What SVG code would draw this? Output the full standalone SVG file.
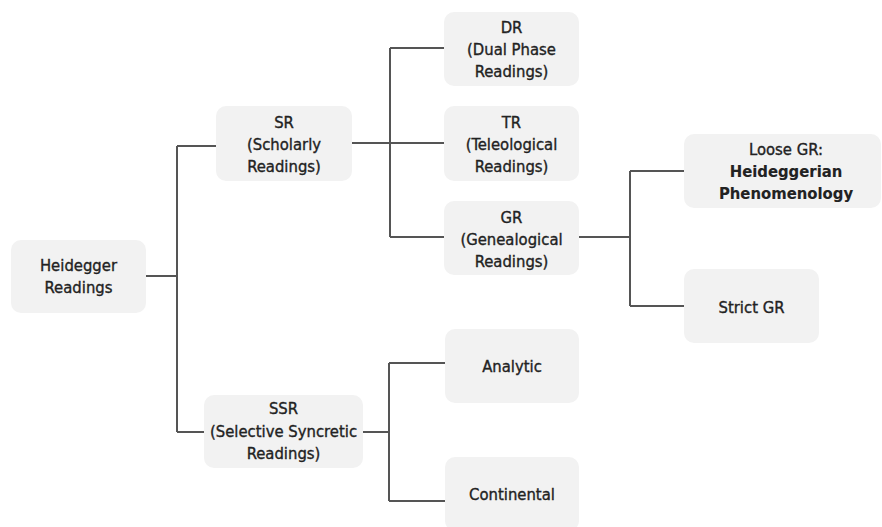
<svg xmlns="http://www.w3.org/2000/svg" width="882" height="527" viewBox="0 0 882 527">
<style>
.box{fill:#f2f2f2;}
text{font-family:"DejaVu Sans Condensed","Liberation Sans Narrow","Liberation Sans",sans-serif;font-size:16.5px;fill:#222;stroke:#222;stroke-width:0.35;text-anchor:middle;}
.b{font-weight:bold;stroke-width:0.1;}
.c{fill:none;stroke:#555;stroke-width:2;}
</style>
<rect width="882" height="527" fill="#ffffff"/>
<g id="connectors">
<path class="c" d="M146,276 H177 M177,146 V432 M177,146 H216 M177,432 H204"/>
<path class="c" d="M352,143 H444 M390,48 V237 M390,48 H444 M390,237 H444"/>
<path class="c" d="M579,237 H630 M630,171 V306 M630,171 H684 M630,306 H684"/>
<path class="c" d="M363,432 H389 M389,363 V501 M389,363 H445 M389,501 H445"/>
</g>
<g id="heidegger"><rect class="box" x="11" y="240" width="135" height="73" rx="10"/><text x="78.5" y="271">Heidegger</text><text x="78.5" y="293">Readings</text></g>
<g id="sr"><rect class="box" x="216" y="106" width="136" height="75" rx="10"/><text x="284" y="128">SR</text><text x="284" y="150">(Scholarly</text><text x="284" y="172">Readings)</text></g>
<g id="ssr"><rect class="box" x="204" y="395" width="159" height="73" rx="10"/><text x="283.5" y="414">SSR</text><text x="283.5" y="437">(Selective Syncretic</text><text x="283.5" y="459">Readings)</text></g>
<g id="dr"><rect class="box" x="444" y="12" width="135" height="74" rx="10"/><text x="511.5" y="33">DR</text><text x="511.5" y="55">(Dual Phase</text><text x="511.5" y="77">Readings)</text></g>
<g id="tr"><rect class="box" x="444" y="106" width="135" height="75" rx="10"/><text x="511.5" y="128">TR</text><text x="511.5" y="150">(Teleological</text><text x="511.5" y="172">Readings)</text></g>
<g id="gr"><rect class="box" x="444" y="201" width="135" height="74" rx="10"/><text x="511.5" y="223">GR</text><text x="511.5" y="245">(Genealogical</text><text x="511.5" y="267">Readings)</text></g>
<g id="loose"><rect class="box" x="684" y="134" width="197" height="74" rx="10"/><text x="786" y="155">Loose GR:</text><text class="b" x="786" y="177">Heideggerian</text><text class="b" x="786" y="199">Phenomenology</text></g>
<g id="strict"><rect class="box" x="684" y="269" width="135" height="74" rx="10"/><text x="751.5" y="313">Strict GR</text></g>
<g id="analytic"><rect class="box" x="445" y="329" width="134" height="74" rx="10"/><text x="512" y="372">Analytic</text></g>
<g id="continental"><rect class="box" x="445" y="457" width="134" height="74" rx="10"/><text x="512" y="500">Continental</text></g>
</svg>
